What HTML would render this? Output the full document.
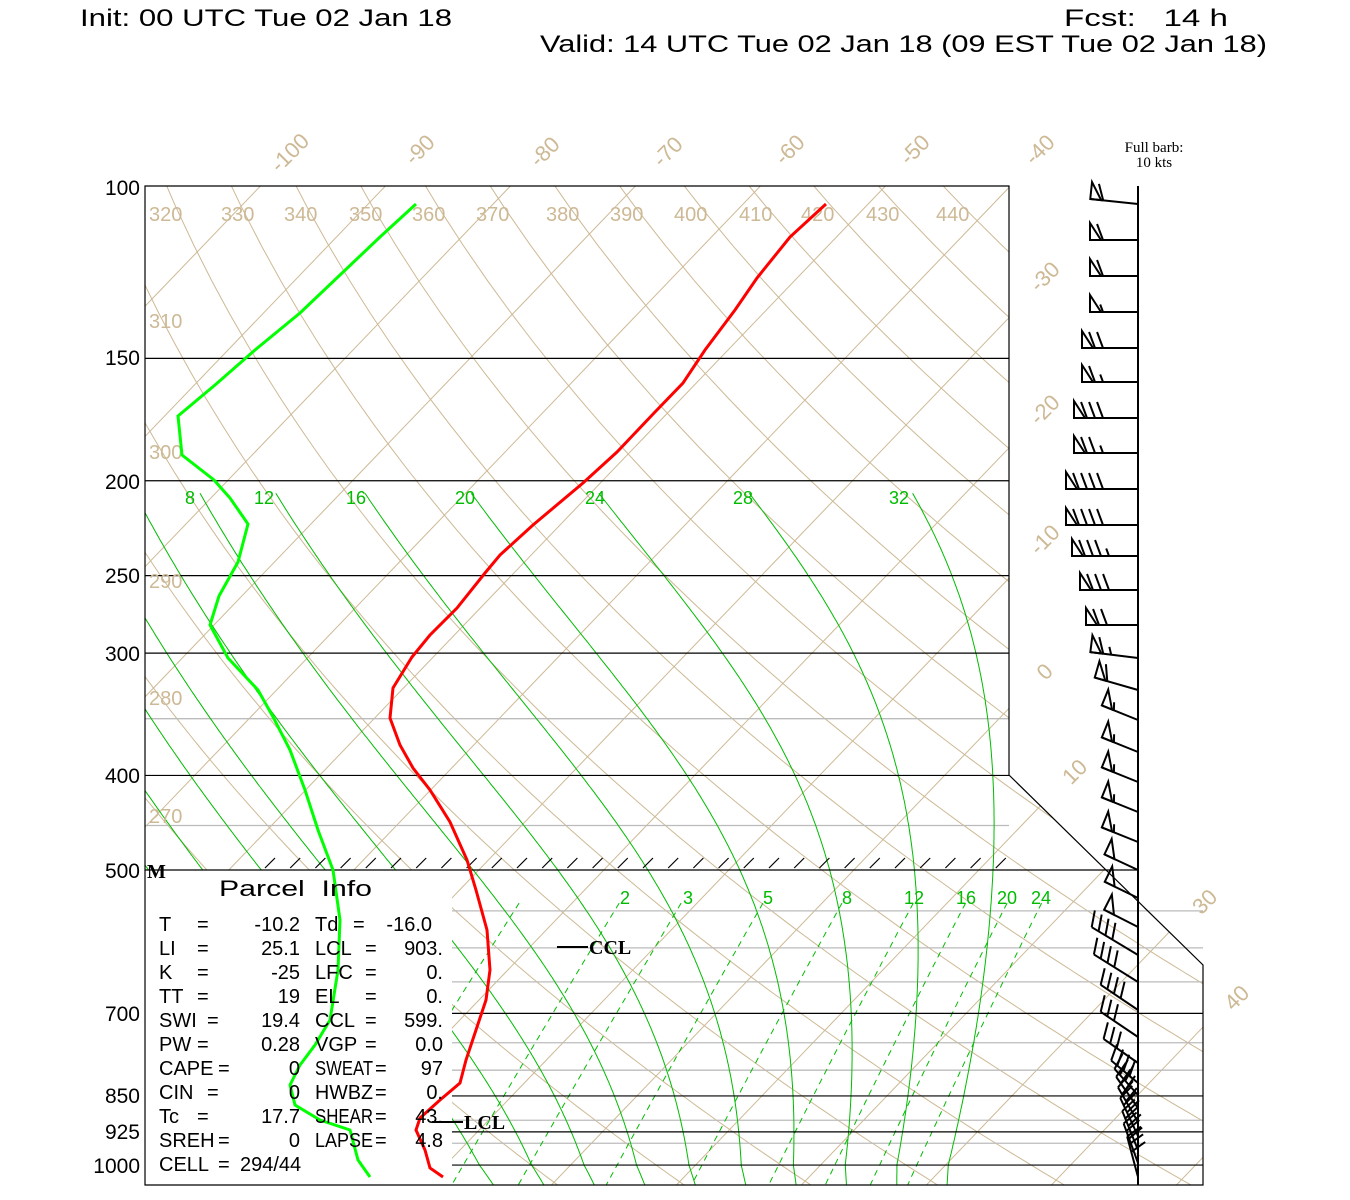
<!DOCTYPE html>
<html><head><meta charset="utf-8"><style>
html,body{margin:0;padding:0;background:#fff;}
svg{display:block;}
text{font-family:"Liberation Sans",sans-serif;}
</style></head><body>
<svg id="s" width="1350" height="1200" viewBox="0 0 1350 1200" xmlns="http://www.w3.org/2000/svg">
<defs>
<clipPath id="cp"><path d="M145,186 H1009 V775 L1203,965 V1185 H452 V870 H145 Z"/></clipPath>
<clipPath id="cpl"><path d="M452,900 H1180 L1203,965 V1185 H452 Z"/></clipPath>
</defs>
<g id="tan" clip-path="url(#cp)" fill="none" stroke="#cdb995" stroke-width="1"></g>
<g id="grey" stroke="#bbbbbb" stroke-width="1.3"></g>
<g id="grn" clip-path="url(#cp)" fill="none" stroke="#00bb00" stroke-width="1"></g>
<g id="mix" clip-path="url(#cpl)" fill="none" stroke="#00bb00" stroke-width="1" stroke-dasharray="6,5"></g>
<g id="blk" stroke="#000" stroke-width="1.2" fill="none"></g>
<g id="lab"></g>
<g id="barbs" stroke="#000" stroke-width="2" fill="none"></g>

<polyline fill="none" stroke="#ff0000" stroke-width="3" points="826,204 790,237 757,278 735,310 705,350 683,383 655,412 617,452 583,483 533,525 500,555 485,573 457,608 430,635 412,657 393,688 390,718 400,745 413,768 430,790 450,822 467,860 476,890 487,930 490,970 486,1000 476,1030 466,1060 460,1083 440,1100 420,1118 416,1130 425,1150 430,1168 443,1177"/>
<polyline fill="none" stroke="#00ff00" stroke-width="3" points="416,204 380,237 340,275 300,313 255,350 215,385 178,416 182,455 214,480 230,498 248,524 238,562 219,596 210,625 228,658 258,690 272,715 290,750 305,790 318,830 333,870 340,920 338,970 330,1020 315,1045 300,1065 290,1085 295,1105 320,1120 350,1130 358,1160 370,1177"/>

<g font-size="24" fill="#000">
<text x="80" y="26" textLength="372" lengthAdjust="spacingAndGlyphs">Init: 00 UTC Tue 02 Jan 18</text>
<text x="1064" y="26" textLength="164" lengthAdjust="spacingAndGlyphs" xml:space="preserve">Fcst:   14 h</text>
<text x="540" y="52" textLength="727" lengthAdjust="spacingAndGlyphs">Valid: 14 UTC Tue 02 Jan 18 (09 EST Tue 02 Jan 18)</text>
</g>
<g font-size="15" text-anchor="middle">
<text x="1154" y="152" style="font-family:'Liberation Serif',serif">Full barb:</text>
<text x="1154" y="167" style="font-family:'Liberation Serif',serif">10 kts</text>
</g>
<g font-size="21" text-anchor="end" fill="#000">
<text x="140" y="195">100</text><text x="140" y="365">150</text><text x="140" y="489">200</text>
<text x="140" y="583">250</text><text x="140" y="661">300</text><text x="140" y="783">400</text>
<text x="140" y="878">500</text><text x="140" y="1021">700</text><text x="140" y="1103">850</text>
<text x="140" y="1139">925</text><text x="140" y="1173">1000</text>
</g>
<text x="147" y="878" font-size="20" font-weight="bold" style="font-family:'Liberation Serif',serif">M</text>
<g font-size="22" fill="#000">
<text x="219" y="896" textLength="153" lengthAdjust="spacingAndGlyphs" xml:space="preserve">Parcel  Info</text>
</g>
<g id="pinfo" font-size="20" fill="#000"></g>
<g font-size="20" fill="#000" font-weight="bold">
<line x1="557" y1="947" x2="588" y2="947" stroke="#000" stroke-width="2"/>
<text x="589" y="954" style="font-family:'Liberation Serif',serif" font-weight="bold">CCL</text>
<line x1="432" y1="1122" x2="463" y2="1122" stroke="#000" stroke-width="2"/>
<text x="464" y="1129" style="font-family:'Liberation Serif',serif" font-weight="bold">LCL</text>
</g>
</svg>
<script>
(function(){
var NS="http://www.w3.org/2000/svg";
function el(p,t,a,txt){var e=document.createElementNS(NS,t);for(var k in a)e.setAttribute(k,a[k]);if(txt!==undefined)e.textContent=txt;p.appendChild(e);return e;}
function Y(p){return 186+425.2*Math.log(p/100);}
function X(T,y){return 1545+12.5*T-0.96*(y-150);}
var tan=document.getElementById('tan'),grn=document.getElementById('grn'),mix=document.getElementById('mix'),
grey=document.getElementById('grey'),blk=document.getElementById('blk'),lab=document.getElementById('lab'),
barbs=document.getElementById('barbs'),pinfo=document.getElementById('pinfo');
for(var T=-140;T<=60;T+=10){el(tan,'line',{x1:X(T,100),y1:100,x2:X(T,1200),y2:1200});}
for(var th=230;th<=460;th+=10){var pts=[];for(var p=95;p<=1060;p+=10){var t=th*Math.pow(p/1000,0.286)-273.15;var y=Y(p);pts.push(X(t,y).toFixed(1)+','+y.toFixed(1));}el(tan,'polyline',{points:pts.join(' ')});}
function es(t){return 6.112*Math.exp(17.67*t/(t+243.5));}
for(var tw=-20;tw<=32;tw+=4){var Tk=tw+273.15,pts=[];for(var p=1060;p>=205;p-=2){
 var tc=Tk-273.15;var e=es(tc);var rs=0.622*e/(p-e);
 var y=Y(p);var corr=5*Math.max(0,(1000-p))/800;
 pts.push(X(tc+corr,y).toFixed(1)+','+y.toFixed(1));
 var Rd=287,cp=1004,Lv=2.5e6;var dTdp=(Rd*Tk+Lv*rs)/(p*(cp+Lv*Lv*rs*0.622/(Rd*Tk*Tk)));
 Tk-=dTdp*2;}
 el(grn,'polyline',{points:pts.join(' ')});}
[0.4,1,2,3,5,8,12,16,20,24].forEach(function(w){var pts=[];for(var p=540;p<=1060;p+=10){var e=w*p/(622+w);var l=Math.log(e/6.112);var td=243.5*l/(17.67-l);var y=Y(p);pts.push(X(td,y).toFixed(1)+','+y.toFixed(1));}el(mix,'polyline',{points:pts.join(' ')});});
[350,450].forEach(function(p){var y=Y(p);el(grey,'line',{x1:145,y1:y,x2:1009,y2:y});});
[550,600,650,750,800,900,950].forEach(function(p){var y=Y(p);el(grey,'line',{x1:452,y1:y,x2:1203,y2:y});});
el(blk,'path',{d:'M145,186 H1009 V775 L1203,965 V1185 H145 Z'});
[150,200,250,300,400].forEach(function(p){var y=Y(p);el(blk,'line',{x1:145,y1:y,x2:1009,y2:y});});
el(blk,'line',{x1:145,y1:870,x2:1138,y2:870});
[700,850,925,1000].forEach(function(p){var y=Y(p);el(blk,'line',{x1:452,y1:y,x2:1203,y2:y});});
el(blk,'line',{x1:1138,y1:186,x2:1138,y2:1185,'stroke-width':2});
for(var hx=265;hx<=1000;hx+=25.2){el(blk,'line',{x1:hx,y1:868,x2:hx+10,y2:858});}
var thl=[[320,149],[330,221],[340,284],[350,349],[360,412],[370,476],[380,546],[390,610],[400,674],[410,739],[420,801],[430,866],[440,936]];
thl.forEach(function(a){el(lab,'text',{x:a[1],y:221,fill:'#cdb995','font-size':20},String(a[0]));});
[[310,328],[300,459],[290,588],[280,705],[270,823]].forEach(function(a){el(lab,'text',{x:149,y:a[1],fill:'#cdb995','font-size':20},String(a[0]));});
[['-100',290,153],['-90',420,150],['-80',545,152],['-70',668,152],['-60',790,150],['-50',915,150],['-40',1040,150],['-30',1045,277],['-20',1045,410],['-10',1045,540],['0',1045,672],['10',1075,772],['30',1205,902],['40',1237,998]].forEach(function(a){
 el(lab,'text',{x:a[1],y:a[2]+7,fill:'#cdb995','font-size':22,'text-anchor':'middle',transform:'rotate(-45 '+a[1]+' '+a[2]+')'},a[0]);});
[['8',190],['12',264],['16',356],['20',465],['24',595],['28',743],['32',899]].forEach(function(a){el(lab,'text',{x:a[1],y:504,fill:'#00bb00','font-size':18,'text-anchor':'middle'},a[0]);});
[['2',625],['3',688],['5',768],['8',847],['12',914],['16',966],['20',1007],['24',1041]].forEach(function(a){el(lab,'text',{x:a[1],y:904,fill:'#00bb00','font-size':18,'text-anchor':'middle'},a[0]);});
// parcel info
function lbl(x,y,s,maxw){var t=el(pinfo,'text',{x:x,y:y},s);var w=t.getComputedTextLength?t.getComputedTextLength():0;if(maxw&&w>maxw){t.setAttribute('textLength',maxw);t.setAttribute('lengthAdjust','spacingAndGlyphs');}}
var rows=[['T',197,'-10.2','Td',353,'-16.0'],['LI',197,'25.1','LCL',365,'903.'],['K',197,'-25','LFC',365,'0.'],['TT',197,'19','EL',365,'0.'],['SWI',207,'19.4','CCL',365,'599.'],['PW',197,'0.28','VGP',365,'0.0'],['CAPE',218,'0','SWEAT',375,'97'],['CIN',207,'0','HWBZ',375,'0.'],['Tc',197,'17.7','SHEAR',375,'43.'],['SREH',218,'0','LAPSE',375,'4.8']];
rows.forEach(function(r,i){var y=931+24*i;
 lbl(159,y,r[0],r[1]-159-3);el(pinfo,'text',{x:r[1],y:y},'=');
 el(pinfo,'text',{x:300,y:y,'text-anchor':'end'},r[2]);
 lbl(315,y,r[3],r[4]-315-2);el(pinfo,'text',{x:r[4],y:y},'=');
 el(pinfo,'text',{x:(i==0?432:443),y:y,'text-anchor':'end'},r[5]);});
lbl(159,1171,'CELL',55);el(pinfo,'text',{x:218,y:1171},'=');el(pinfo,'text',{x:240,y:1171},'294/44');
function barb(y,ang,fl,fu,ha,L){var a=ang*Math.PI/180;var ux=Math.cos(a),uy=Math.sin(a);var nx=-Math.sin(a),ny=Math.cos(a);
 if(ny>0){nx=-nx;ny=-ny;}
 var bx=1138,by=y,tx=bx+ux*L,ty=by+uy*L;
 el(barbs,'line',{x1:bx,y1:by,x2:tx,y2:ty});
 var d=0;var dx=0.94*nx+0.35*ux,dy=0.94*ny+0.35*uy;
 for(var i=0;i<fl;i++){var px=tx-ux*d,py=ty-uy*d;
  el(barbs,'polygon',{points:px+','+py+' '+(px+nx*17)+','+(py+ny*17)+' '+(px-ux*11)+','+(py-uy*11)});d+=13;}
 for(var i=0;i<fu;i++){var px=tx-ux*d,py=ty-uy*d;el(barbs,'line',{x1:px,y1:py,x2:px+dx*17,y2:py+dy*17});d+=8;}
 for(var i=0;i<ha;i++){var px=tx-ux*d,py=ty-uy*d;el(barbs,'line',{x1:px,y1:py,x2:px+dx*8,y2:py+dy*8});d+=8;}
}
var B=[[204,186,1,1,0,48],[240,180,1,1,0,48],[276,180,1,1,0,48],[312,180,1,0,1,48],[348,180,1,2,0,56],[382,180,1,1,1,56],[418,180,1,3,0,64],[453,180,1,2,1,64],[489,180,1,4,0,72],[525,180,1,4,0,72],[556,180,1,3,1,66],[590,180,1,3,0,58],[625,180,1,2,0,52],[658,187,1,1,1,48],[690,196,1,1,0,45],[720,202,1,0,1,39],[752,202,1,0,1,39],[782,202,1,0,1,39],[812,202,1,0,1,39],[842,202,1,0,1,39],[870,205,1,0,0,37],[898,206,1,0,0,37],[927,207,1,0,0,38],[955,211,0,4,0,54],[982,212,0,4,0,52],[1010,214,0,4,0,45],[1037,214,0,3,0,45],[1063,215,0,3,0,42],[1083,220,0,4,0,35],[1095,228,0,3,0,35],[1108,235,0,3,0,38],[1122,240,0,3,0,40],[1136,245,0,3,0,42],[1150,248,0,3,0,42],[1163,250,0,3,0,42],[1177,255,0,3,0,42]];
B.forEach(function(b){barb(b[0],b[1],b[2],b[3],b[4],b[5]);});
})();
</script>
</body></html>
